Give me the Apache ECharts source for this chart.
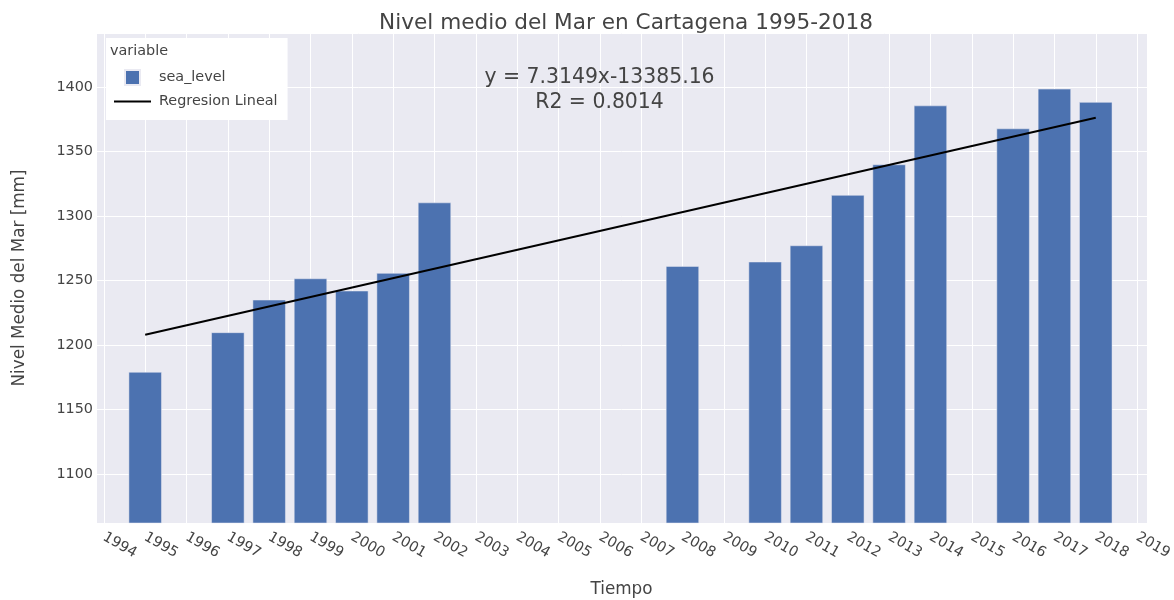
<!DOCTYPE html>
<html>
<head>
<meta charset="utf-8">
<script src="https://cdn.jsdelivr.net/npm/echarts@6/dist/echarts.min.js"></script>
<style>html,body{margin:0;padding:0;background:#fff}#c{width:1174px;height:600px}</style>
</head>
<body>
<div id="c"></div>
<script>
// ---- data ----
const years = [1995, 1997, 1998, 1999, 2000, 2001, 2002, 2008, 2010, 2011, 2012, 2013, 2014, 2016, 2017, 2018];
const seaLevel = [1179.1, 1209.8, 1235.1, 1251.6, 1242.1, 1255.8, 1310.5, 1261.2, 1264.6, 1277.2, 1316.3, 1340.0, 1385.7, 1367.9, 1398.7, 1388.4];
const regYears = [1995, 2018];
const slope = 7.3149;
const intercept = -13385.16;
const r2 = 0.8014;
const titleText = 'Nivel medio del Mar en Cartagena 1995-2018';
const xName = 'Tiempo';
const yName = 'Nivel Medio del Mar [mm]';
const seriesNames = ['sea_level', 'Regresion Lineal'];
const legendTitle = 'variable';

// ---- chart ----
const font = '"DejaVu Sans", Verdana, sans-serif';
const txt = '#444';
const chart = echarts.init(document.getElementById('c'), null, { renderer: 'canvas' });
const barData = years.map((y, i) => [y, seaLevel[i]]);
const regData = regYears.map(x => [x, slope * x + intercept]);
const isMult = (v, m) => Math.abs(v / m - Math.round(v / m)) < 1e-6;

const option = {
  animation: false,
  title: {
    text: titleText, left: 621, top: 7, textAlign: 'center',
    textStyle: { fontFamily: font, fontSize: 21.6, fontWeight: 'normal', color: txt }
  },
  grid: {
    left: 96, right: 27, top: 33, bottom: 77, show: true, backgroundColor: '#EAEAF2', borderWidth: 0,
    containLabel: false, outerBoundsMode: 'none'
  },
  xAxis: {
    type: 'value', min: 1993.81, max: 2019.24, minInterval: 1, maxInterval: 1,
    name: xName, nameLocation: 'middle', nameGap: 58,
    nameTextStyle: { fontFamily: font, fontSize: 16.8, color: txt },
    axisLine: { show: false }, axisTick: { show: false },
    splitLine: { show: true, lineStyle: { color: '#fff', width: 1 } },
    axisLabel: {
      rotate: -30, margin: 13, fontFamily: font, fontSize: 14.4, color: txt,
      formatter: v => isMult(v, 1) ? String(Math.round(v)) : ''
    }
  },
  yAxis: {
    type: 'value', min: 1062, max: 1442, minInterval: 50, maxInterval: 50,
    name: yName, nameLocation: 'middle', nameGap: 68,
    nameTextStyle: { fontFamily: font, fontSize: 16.8, color: txt },
    axisLine: { show: false }, axisTick: { show: false },
    splitLine: { show: true, lineStyle: { color: '#fff', width: 1 } },
    axisLabel: {
      margin: 3, fontFamily: font, fontSize: 14.4, color: txt,
      formatter: v => isMult(v, 50) ? String(Math.round(v)) : ''
    }
  },
  legend: {
    orient: 'vertical', left: 106, top: 38,
    backgroundColor: '#fff', padding: [31, 10, 11, 7],
    itemWidth: 37, itemHeight: 15, itemGap: 8,
    textStyle: { fontFamily: font, fontSize: 14.4, color: txt, padding: [0, 0, 0, 3] },
    data: [
      { name: seriesNames[0], icon: 'path://M0,0M37,15M11,0h15v15h-15z' },
      { name: seriesNames[1], icon: 'path://M0,0M37,15M0,6.5h37v2h-37z' }
    ]
  },
  graphic: [
    { type: 'text', left: 110, top: 44, z: 100,
      style: { text: legendTitle, fontFamily: font, fontSize: 14.4, fill: txt } },
    { type: 'text', x: 599.5, y: 78, z: 100,
      style: { text: 'y = ' + slope + 'x' + intercept, fontFamily: font, fontSize: 20.4, fill: txt, align: 'center', verticalAlign: 'middle' } },
    { type: 'text', x: 599.5, y: 103, z: 100,
      style: { text: 'R2 = ' + r2, fontFamily: font, fontSize: 20.4, fill: txt, align: 'center', verticalAlign: 'middle' } }
  ],
  series: [
    {
      name: seriesNames[0], type: 'bar', data: barData, barWidth: '80%',
      itemStyle: { color: '#4C72B0', borderColor: '#EAEAF2', borderWidth: 0.5 }
    },
    {
      name: seriesNames[1], type: 'line', data: regData, symbol: 'none', z: 5,
      lineStyle: { color: '#000', width: 2 }, itemStyle: { color: '#000' }
    }
  ]
};
chart.setOption(option);
</script>
</body>
</html>
